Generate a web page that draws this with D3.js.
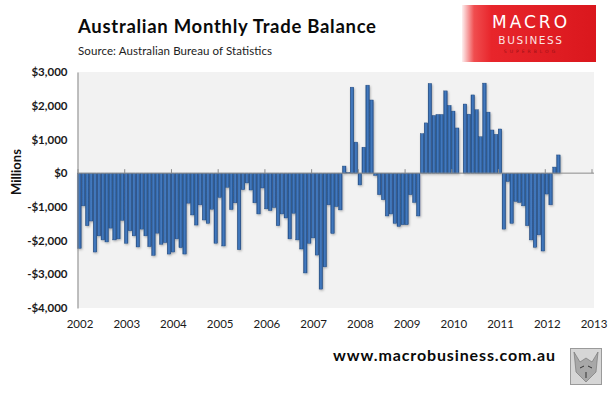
<!DOCTYPE html>
<html>
<head>
<meta charset="utf-8">
<script src="https://cdn.jsdelivr.net/npm/d3@7"></script>
<style>
  body { margin: 0; background: #fff; }
  svg { display: block; font-family: Lato, "Open Sans", sans-serif; }
</style>
</head>
<body>
<svg id="chart" width="611" height="393"></svg>
<script>
// monthly trade balance, $ millions, Jan 2002 .. Apr 2012
const startYear = 2002;
const v2002 = [-2230, -970, -1560, -1420, -2340, -1860, -1980, -2040, -1630, -1980, -1950, -1400];
const v2003 = [-2080, -1710, -1860, -2190, -1660, -1860, -2180, -2440, -1780, -2110, -2060, -2400];
const v2004 = [-2340, -1950, -2210, -2400, -890, -1240, -1540, -940, -1390, -1490, -1070, -2080];
const v2005 = [-720, -2160, -420, -1080, -880, -2270, -490, -290, -500, -880, -1210, -440];
const v2006 = [-1060, -1110, -1020, -1560, -1210, -1330, -1950, -1190, -1980, -2250, -2960, -2080];
const v2007 = [-1920, -2430, -3440, -2780, -940, -1790, -990, -1090, 210, 20, 2550, 920];
const v2008 = [-350, 770, 2610, 2170, -70, -640, -790, -1270, -1210, -1490, -1580, -1530];
const v2009 = [-1530, -640, -870, -1270, 1170, 1490, 2660, 1710, 1740, 1740, 2440, 2010];
const v2010 = [1840, 1340, 0, 2050, 1750, 2320, 1880, 1080, 2670, 1810, 1280, 1150];
const v2011 = [1310, -1660, -250, -1490, -840, -870, -970, -1560, -1980, -2200, -1830, -2310];
const v2012 = [-620, -940, 180, 540];

const yearLabels = ["2002", "2003", "2004", "2005", "2006", "2007", "2008", "2009", "2010", "2011", "2012", "2013"];
const yTicks = [3000, 2000, 1000, 0, -1000, -2000, -3000, -4000];

const balance = [].concat(v2002, v2003, v2004, v2005, v2006, v2007, v2008, v2009, v2010, v2011, v2012);
const data = balance.map((v, i) => ({ idx: i, value: v }));

const svg = d3.select("#chart");

const area = { left: 77.5, right: 591.5, top: 72, bottom: 308, bgRight: 594 };
const nMonths = (yearLabels.length - 1) * 12;

const scaleX = d3.scaleBand()
    .domain(d3.range(nMonths))
    .range([area.left, area.right])
    .paddingInner(0.1)
    .paddingOuter(0.05);

const scaleYear = d3.scaleLinear()
    .domain([startYear, startYear + yearLabels.length - 1])
    .range([area.left, area.right]);

const scaleY = d3.scaleLinear()
    .domain([-4000, 3000])
    .range([area.bottom, area.top]);

const defs = svg.append("defs");
const grad = defs.append("linearGradient").attr("id", "barGrad")
    .attr("x1", "0").attr("x2", "1").attr("y1", "0").attr("y2", "0");
grad.append("stop").attr("offset", "0%").attr("stop-color", "#1f4b85");
grad.append("stop").attr("offset", "35%").attr("stop-color", "#3f77bd");
grad.append("stop").attr("offset", "60%").attr("stop-color", "#4479bd");
grad.append("stop").attr("offset", "100%").attr("stop-color", "#214f8c");

const shadow = defs.append("filter").attr("id", "shadow")
    .attr("x", "-20%").attr("y", "-20%").attr("width", "140%").attr("height", "140%");
shadow.append("feDropShadow").attr("dx", 0.8).attr("dy", 1.2)
    .attr("stdDeviation", 0.8).attr("flood-color", "#000").attr("flood-opacity", 0.3);

const logoGrad = defs.append("linearGradient").attr("id", "logoGrad")
    .attr("x1", "0").attr("x2", "1").attr("y1", "0").attr("y2", "0");
logoGrad.append("stop").attr("offset", "0%").attr("stop-color", "#fdf0f0");
logoGrad.append("stop").attr("offset", "9%").attr("stop-color", "#f04d4f");
logoGrad.append("stop").attr("offset", "22%").attr("stop-color", "#e8252b");
logoGrad.append("stop").attr("offset", "100%").attr("stop-color", "#da171d");

// plot background
svg.append("rect")
    .attr("x", area.left).attr("y", area.top)
    .attr("width", area.bgRight - area.left).attr("height", area.bottom - area.top)
    .attr("fill", "#f2f2f2");

// bars
svg.append("g").attr("filter", "url(#shadow)")
    .selectAll("rect")
    .data(data)
    .enter()
    .append("rect")
    .attr("x", d => scaleX(d.idx))
    .attr("width", scaleX.bandwidth())
    .attr("y", d => scaleY(Math.max(0, d.value)))
    .attr("height", d => Math.abs(scaleY(d.value) - scaleY(0)))
    .attr("fill", "url(#barGrad)")
    .attr("stroke", "#1d4479")
    .attr("stroke-width", 0.4);

// y axis
const axisY = d3.axisLeft(scaleY)
    .tickValues(yTicks)
    .tickSize(0)
    .tickPadding(10)
    .tickFormat(d => (d < 0 ? "-$" : "$") + d3.format(",")(Math.abs(d)));

const gY = svg.append("g")
    .attr("transform", `translate(${area.left},0)`)
    .call(axisY);
gY.select(".domain").attr("stroke", "#868686");
gY.selectAll("text")
    .attr("font-size", 11.5)
    .attr("font-weight", "bold")
    .attr("fill", "#1a1a1a")
    .attr("font-family", "Lato, sans-serif");

// zero line with year ticks
const axisZero = d3.axisTop(scaleYear)
    .tickValues(d3.range(startYear, startYear + yearLabels.length))
    .tickSize(4)
    .tickFormat("");
const gZero = svg.append("g")
    .attr("transform", `translate(0,${scaleY(0)})`)
    .call(axisZero);
gZero.select(".domain").attr("stroke", "#8c8c8c").attr("d", `M${area.left},0H${area.bgRight}`);
gZero.selectAll("line").attr("stroke", "#8c8c8c");

// year labels below the plot
const axisX = d3.axisBottom(scaleYear)
    .tickValues(d3.range(startYear, startYear + yearLabels.length))
    .tickSize(0)
    .tickPadding(10)
    .tickFormat((d, i) => yearLabels[i]);
const gX = svg.append("g")
    .attr("transform", `translate(2,${area.bottom + 2})`)
    .call(axisX);
gX.select(".domain").remove();
gX.selectAll("text")
    .attr("font-size", 11.5)
    .attr("fill", "#1a1a1a")
    .attr("font-family", "Lato, sans-serif");

// axis title
svg.append("text")
    .attr("transform", "translate(21,172) rotate(-90)")
    .attr("text-anchor", "middle")
    .attr("font-size", 13)
    .attr("font-weight", "bold")
    .attr("fill", "#111")
    .text("Millions");

// titles
svg.append("text")
    .attr("x", 78).attr("y", 33)
    .attr("font-size", 18.5)
    .attr("font-weight", "bold")
    .attr("fill", "#0a0a0a")
    .attr("textLength", 298)
    .text("Australian  Monthly Trade Balance");

svg.append("text")
    .attr("x", 78).attr("y", 55)
    .attr("font-size", 11.5)
    .attr("fill", "#222")
    .attr("textLength", 194)
    .text("Source:  Australian Bureau of Statistics");

// logo
const logo = svg.append("g");
logo.append("rect")
    .attr("x", 462).attr("y", 5).attr("width", 134).attr("height", 57)
    .attr("fill", "url(#logoGrad)");
logo.append("text")
    .attr("x", 531).attr("y", 28)
    .attr("text-anchor", "middle")
    .attr("font-family", "'DejaVu Sans', sans-serif")
    .attr("font-size", 17)
    .attr("fill", "#fff")
    .attr("letter-spacing", 3)
    .text("MACRO");
logo.append("text")
    .attr("x", 531).attr("y", 44)
    .attr("text-anchor", "middle")
    .attr("font-family", "'DejaVu Sans', sans-serif")
    .attr("font-size", 10.5)
    .attr("fill", "#fbe3e3")
    .attr("letter-spacing", 1.6)
    .text("BUSINESS");
logo.append("text")
    .attr("x", 531).attr("y", 53)
    .attr("text-anchor", "middle")
    .attr("font-family", "'DejaVu Sans', sans-serif")
    .attr("font-size", 4.5)
    .attr("fill", "#9a1015")
    .attr("letter-spacing", 3)
    .text("SUPERBLOG");

// footer
svg.append("text")
    .attr("x", 555).attr("y", 361)
    .attr("text-anchor", "end")
    .attr("font-size", 16)
    .attr("font-weight", "bold")
    .attr("fill", "#0a0a0a")
    .attr("textLength", 222)
    .text("www.macrobusiness.com.au");

const wolf = svg.append("g");
wolf.append("rect")
    .attr("x", 570.5).attr("y", 348.5).attr("width", 31).attr("height", 36)
    .attr("fill", "#d6d6d6").attr("stroke", "#9a9a9a");
wolf.append("path")
    .attr("d", "M574,352 L580,362 L586,358 L592,362 L598,352 L596,372 L586,382 L576,372 Z")
    .attr("fill", "#a8a8a8").attr("stroke", "#6e6e6e").attr("stroke-width", 0.6);
wolf.append("path")
    .attr("d", "M580,368 L584,366 M588,366 L592,368 M586,372 L586,378")
    .attr("stroke", "#333").attr("stroke-width", 1);
</script>
</body>
</html>
